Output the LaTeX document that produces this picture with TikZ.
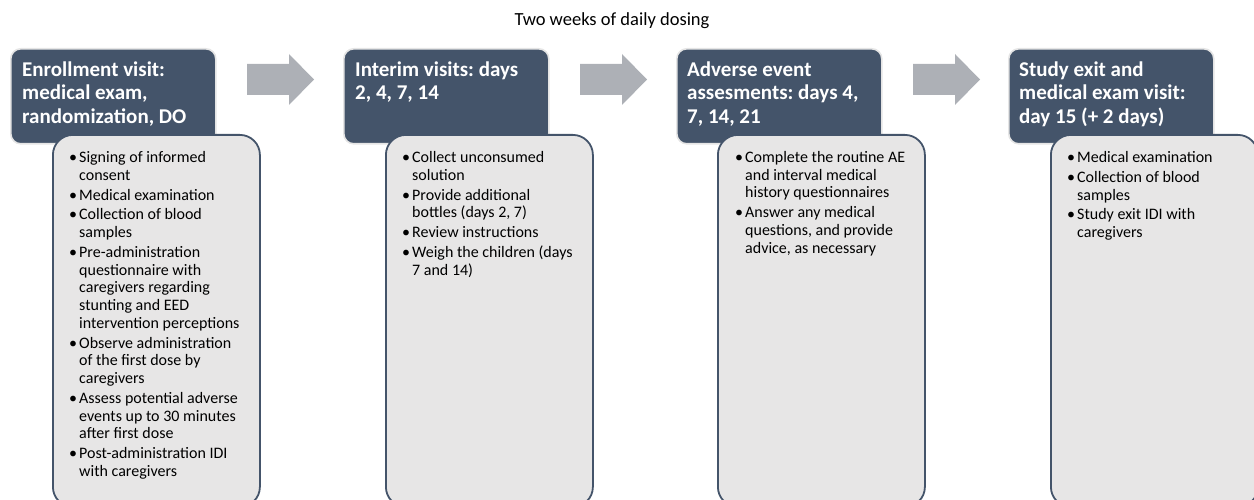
\documentclass[tikz,border=0pt]{standalone}
\usepackage{fontspec}
\setmainfont{Carlito}
\frenchspacing
\definecolor{slate}{RGB}{68,84,106}
\definecolor{paper}{RGB}{231,230,230}
\definecolor{arrowgray}{RGB}{173,176,182}
\tikzset{
  phase/.style={fill=slate, draw=black!10, line width=1.6pt, rounded corners=10pt,
    minimum width=205pt, minimum height=95pt, anchor=north west, inner sep=0pt},
  tasks/.style={fill=paper, draw=slate, line width=1.8pt, rounded corners=20pt,
    minimum width=207pt, minimum height=372pt, anchor=north west, inner sep=0pt},
  phasetitle/.style={anchor=base west, inner sep=0pt, text=white,
    font=\fontsize{21}{23.3}\selectfont\bfseries, align=left},
  tasklist/.style={anchor=base west, inner sep=0pt, font=\fontsize{16}{17.7}\selectfont},
  flow/.style={fill=arrowgray},
}
% bullet item that hangs into the left margin of the list
\newcommand\bul{\hspace*{-10pt}\makebox[10pt][l]{\textbullet}}
\newcommand\tasktext[1]{\parbox[t]{200pt}{\hangindent=10pt\hangafter=0 #1}}
\begin{document}
\begin{tikzpicture}[x=1pt,y=-1pt]
  \useasboundingbox (0,0) rectangle (1254,500);
  \clip (0,0) rectangle (1254,500);

  \node[anchor=base, inner sep=0pt, font=\fontsize{18.5}{22}\selectfont] (dosing) at (612,26) {Two weeks of daily dosing};

  % block arrows between the phases
  \foreach \dx in {0,333,666} {
    \fill[flow] (247+\dx,64) -- (289+\dx,64) -- (289+\dx,54) -- (314+\dx,79.5)
      -- (289+\dx,105) -- (289+\dx,95) -- (247+\dx,95) -- cycle;
  }

  % phase 1
  \node[phase] (p1) at (10,48) {};
  \node[tasks] (t1) at (52,134) {};
  \node[phasetitle] (p1txt) at (22,76.7) {\parbox[t]{195pt}{\raggedright Enrollment visit:\\medical exam,\\randomization, DO}};
  \node[tasklist] (t1txt) at (69,162.5) {\tasktext{%
    \bul Signing of informed\\consent\\[2.2pt]
    \bul Medical examination\\[2.2pt]
    \bul Collection of blood\\samples\\[2.2pt]
    \bul Pre-administration\\questionnaire with\\caregivers regarding\\stunting and EED\\intervention perceptions\\[2.2pt]
    \bul Observe administration\\of the first dose by\\caregivers\\[2.2pt]
    \bul Assess potential adverse\\events up to 30 minutes\\after first dose\\[2.2pt]
    \bul Post-administration IDI\\with caregivers}};

  % phase 2
  \node[phase] (p2) at (343,48) {};
  \node[tasks] (t2) at (385,134) {};
  \node[phasetitle] (p2txt) at (355,76.7) {\parbox[t]{195pt}{\raggedright Interim visits: days\\2, 4, 7, 14}};
  \node[tasklist] (t2txt) at (402,162.5) {\tasktext{%
    \bul Collect unconsumed\\solution\\[2.2pt]
    \bul Provide additional\\bottles (days 2, 7)\\[2.2pt]
    \bul Review instructions\\[2.2pt]
    \bul Weigh the children (days\\7 and 14)}};

  % phase 3
  \node[phase] (p3) at (676,48) {};
  \node[tasks] (t3) at (717,134) {};
  \node[phasetitle] (p3txt) at (687,76.7) {\parbox[t]{195pt}{\raggedright Adverse event\\assesments: days 4,\\7, 14, 21}};
  \node[tasklist] (t3txt) at (735,162.5) {\tasktext{%
    \bul Complete the routine AE\\and interval medical\\history questionnaires\\[2.2pt]
    \bul Answer any medical\\questions, and provide\\advice, as necessary}};

  % phase 4
  \node[phase] (p4) at (1008,48) {};
  \node[tasks] (t4) at (1050,134) {};
  \node[phasetitle] (p4txt) at (1019,76.7) {\parbox[t]{195pt}{\raggedright Study exit and\\medical exam visit:\\day 15 (+ 2 days)}};
  \node[tasklist] (t4txt) at (1067,162.5) {\tasktext{%
    \bul Medical examination\\[2.2pt]
    \bul Collection of blood\\samples\\[2.2pt]
    \bul Study exit IDI with\\caregivers}};
\end{tikzpicture}
\end{document}
